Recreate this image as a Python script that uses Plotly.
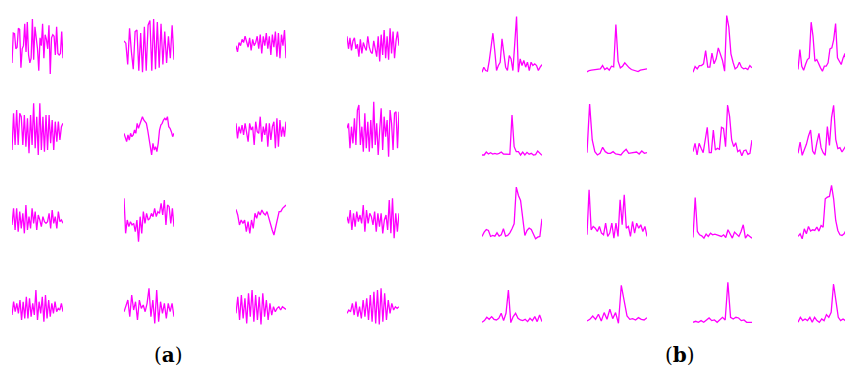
import plotly.graph_objects as go

# ---------------- data: (a) time-domain signals (relative amplitude) ----------------
wave_a1 = [-55, 40, 38, -10, -5, 55, 52, -70, -10, 0, 70, -20, 75, -30, -55, -40, 85, -45, 60, 20,
           -10, -80, 25, 0, 70, -40, 35, 20, -10, 65, -90, 25, 35, 30, -30, 60, -25, -30, -25, 45, -40]
wave_a2 = [15, 8, -60, 55, -20, -75, 45, 50, -80, 40, -85, 60, -80, 65, 80, -80, 85, -75, 75, -70,
           70, -60, 45, -55, 30, -40, 65, -45]
wave_a3 = [0, -20, 10, 0, 20, 10, 30, 15, -5, 25, -15, 20, 0, 10, 30, -10, 35, -25, 30, 0,
           40, -10, 30, -30, 35, -5, 45, -35, 40, -40, 35, 0, 50, -40]
wave_a4 = [30, -10, 25, -15, 15, 25, -10, 5, -35, 20, -25, 10, -5, -15, 30, -5, -20, -25, 15, -5,
           -35, 30, -50, 35, -30, 50, -40, 30, -45, 55, -25, 45, -40, 15, 45, 0]
wave_a5 = [-60, 50, -45, 60, -45, 50, 40, -45, 45, -50, 35, -70, 45, -45, 80, -55, 40, -75, 80, -60,
           40, -65, 45, -60, 45, -40, 30, -60, 25, -35, 25, -30, 10, 20]
wave_a6 = [-10, -20, -35, -15, -30, -10, -20, -15, 0, -10, 20, 5, 15, 30, 40, 30, 25, 20, 0, -30,
           -45, -75, -40, -60, -50, -65, -40, 0, 15, 20, 30, 35, 30, 40, 10, 5, -5, -20, -10]
wave_a7 = [20, -25, 10, -10, 15, -15, 20, -5, -35, 20, 0, 10, -45, 25, -5, -10, 40, -35, 10, -15,
           20, -50, 20, -30, 10, 25, -55, 35, -50, 30, -20, 10, -20, 25]
wave_a8 = [5, 20, -55, 10, -40, 35, -45, 60, 75, -45, 10, -65, 50, -55, 25, -65, 30, -55, 85, -45,
           20, -75, 0, 65, -60, 40, -20, 30, -80, 60, 20, -60, 50, 55, -55, 55]
wave_a9 = [-15, 35, -30, 35, -35, 25, -25, 20, -40, 45, -30, 10, -25, 35, -10, 25, -30, 15, 0, -20,
           10, -5, -10, -5, 20, -25, 30, -10, 10, -25, 25, -5, 0, -10]
wave_a10 = [65, -40, 0, -20, -5, -15, -10, -35, 0, -65, 10, -40, 25, -10, 20, 0, 5, 20, 10, 35,
            10, 25, 20, 50, 15, 60, -15, 45, 40, -10, 35, -20]
wave_a11 = [32, 15, -15, 0, -10, 0, -35, -5, -40, 0, -25, 20, 5, 25, 15, 30, 20, 15, 25, 5,
            -10, -30, -45, -20, 0, 25, 25, 35, 40, 45]
wave_a12 = [10, -10, 30, -30, 20, -20, 25, -5, 15, -10, 45, -35, 30, -10, 20, 10, -15, 25, -35, 20,
            -20, 20, -40, 0, 15, -30, 60, -40, 65, -55, 20, -35, 20]
wave_a13 = [-25, 15, -15, 10, -20, 20, -40, 15, -35, 30, -35, 25, -30, 10, -25, 50, -40, 15, -20, 30,
            -45, 35, -35, 20, -30, 10, -20, 15, -15, -5, -10, 10, -15]
wave_a14 = [-15, 5, 20, -30, 35, -10, 15, -40, 20, -5, 5, -15, 10, 55, -30, 20, -50, 50, -45, 15,
            -20, 10, -35, 10, -15, 10, -30]
wave_a15 = [-20, 30, -40, 35, -35, 25, -50, 40, -30, 50, -45, 35, -40, 30, -53, 40, -30, 20, -40, 10,
            -25, 0, -15, -5, 0, -10, 0, -5, -8]
wave_a16 = [-20, -10, -15, 10, -25, 15, -30, 0, -35, 20, -30, 25, -40, 35, -45, 45, -50, 50, -53, 55,
            -45, 40, -40, 20, -20, 10, -10, 0, -5, 0]

# ---------------- data: (b) spectra (relative magnitude) ----------------
spec_b1 = [0, 15, 5, 3, 35, 85, 117, 65, 5, 20, 30, 100, 50, 15, 5, 50, 40, 5, 85, 167,
           0, 40, 20, 35, 15, 30, 5, 30, 20, 25, 20, 5, 15, 23]
spec_b2 = [1, 5, 6, 7, 7, 8, 10, 20, 8, 13, 6, 18, 16, 143, 33, 13, 18, 28, 20, 13,
           8, 6, 5, 2, 6, 7, 8, 10]
spec_b3 = [0, 17, 10, 20, 20, 25, 65, 15, 15, 57, 25, 40, 73, 55, 35, 3, 170, 135, 55, 30,
           10, 15, 30, 15, 10, 12, 8, 20, 13]
spec_b4 = [8, 68, 18, 6, 23, 38, 43, 150, 108, 33, 38, 23, 13, 3, 18, 18, 28, 70, 73, 98,
           146, 43, 33, 23, 43, 56, 3, 13, 13, 28]
spec_b5 = [3, 3, 12, 6, 10, 6, 8, 6, 8, 12, 6, 5, 6, 5, 123, 28, 13, 13, 3, 12,
           3, 11, 5, 8, 3, 4, 15, 8, 2]
spec_b6 = [10, 156, 48, 13, 3, 8, 26, 13, 8, 8, 13, 6, 5, 3, 13, 20, 8, 10, 10, 12,
           6, 15, 8, 10]
spec_b7 = [13, 38, 3, 38, 23, 10, 48, 86, 10, 10, 78, 18, 23, 20, 86, 83, 28, 153, 118, 48,
           28, 40, 13, 18, 1, 16, 18, 5, 8, 48]
spec_b8 = [8, 42, 2, 20, 35, 60, 78, 15, 5, 40, 68, 25, 10, 2, 88, 32, 115, 152, 50, 22,
           25, 12, 22, 32, 20, 12, 22]
spec_b9 = [7, 20, 28, 25, 7, 10, 8, 18, 8, 12, 30, 8, 10, 18, 30, 45, 155, 130, 115, 60,
           10, 25, 32, 28, 15, 0, 5, 7, 60]
spec_b10 = [12, 147, 27, 37, 32, 22, 37, 17, 12, 47, 7, 17, 47, 2, 47, 7, 117, 42, 132, 32,
            37, 7, 52, 17, 47, 32, 42, 22, 37, 7]
spec_b11 = [4, 124, 22, 12, 9, 2, 14, 7, 17, 12, 14, 12, 10, 7, 12, 4, 27, 14, 2, 20,
            12, 7, 22, 42, 2, 12, 7, 2]
spec_b12 = [7, 15, 0, 30, 15, 37, 23, 27, 25, 35, 23, 40, 35, 120, 125, 127, 160, 120, 55, 25,
            12, 10, 15, 27, 13, 10, 25]
spec_b13 = [3, 8, 18, 12, 20, 12, 10, 15, 30, 8, 30, 100, 2, 20, 30, 15, 10, 8, 12, 5,
            15, 8, 20, 5, 25, 5]
spec_b14 = [7, 12, 22, 12, 27, 7, 32, 12, 42, 14, 32, 0, 114, 72, 22, 12, 14, 10, 17, 12,
            10, 17]
spec_b15 = [3, 6, 3, 8, 3, 10, 16, 8, 10, 3, 10, 18, 10, 123, 18, 13, 18, 16, 8, 10,
            3, 3, 3]
spec_b16 = [3, 18, 8, 13, 8, 18, 3, 18, 8, 3, 13, 8, 26, 18, 33, 118, 68, 18, 8, 13,
            8, 10, 3, 8]

waves = [wave_a1, wave_a2, wave_a3, wave_a4, wave_a5, wave_a6, wave_a7, wave_a8,
         wave_a9, wave_a10, wave_a11, wave_a12, wave_a13, wave_a14, wave_a15, wave_a16]
specs = [spec_b1, spec_b2, spec_b3, spec_b4, spec_b5, spec_b6, spec_b7, spec_b8,
         spec_b9, spec_b10, spec_b11, spec_b12, spec_b13, spec_b14, spec_b15, spec_b16]
panel_labels = ["a", "b"]

# ---------------- layout geometry (window pixels) ----------------
OFF = 8                      # default page margin around the plot div
W, H = 853 - OFF, 370 - OFF  # figure size so it fits the window
wave_cols = [(12, 63), (124, 174), (236, 286), (347, 399)]
wave_rows = [43.3, 130, 220, 306.7]          # centre line of each row
spec_cols = [(482, 542), (587, 647), (693, 752), (798, 852.5)]
spec_rows = [72.2, 156, 238.8, 323.3]        # baseline of each row
label_pos = [(168, 355), (680, 355)]

COLOR = "#ff00ff"

fig = go.Figure()
layout = {}
k = 0


def px_x(a, b):
    return [max(0, (a - OFF) / W), min(1, (b - OFF) / W)]


def px_y(top, bottom):
    return [max(0, 1 - (bottom - OFF) / H), min(1, 1 - (top - OFF) / H)]


def add_panel(data, xdom, ydom, yrange):
    global k
    k += 1
    sfx = "" if k == 1 else str(k)
    fig.add_trace(go.Scatter(x=list(range(len(data))), y=data, mode="lines",
                             line=dict(color=COLOR, width=1.3),
                             xaxis="x" + sfx, yaxis="y" + sfx,
                             hoverinfo="skip", showlegend=False))
    layout["xaxis" + sfx] = dict(domain=xdom, range=[0, len(data) - 1], visible=False,
                                 anchor="y" + sfx, fixedrange=True)
    layout["yaxis" + sfx] = dict(domain=ydom, range=yrange, visible=False,
                                 anchor="x" + sfx, fixedrange=True)


for r in range(4):
    for c in range(4):
        cy = wave_rows[r]
        add_panel(waves[r * 4 + c], px_x(*wave_cols[c]), px_y(cy - 40, cy + 40), [-120, 120])

for r in range(4):
    for c in range(4):
        by = spec_rows[r]
        add_panel(specs[r * 4 + c], px_x(*spec_cols[c]), px_y(by - 60, by + 5), [-15, 180])

annotations = []
for lab, (lx, ly) in zip(panel_labels, label_pos):
    annotations.append(dict(text="(<b>%s</b>)" % lab, x=(lx - OFF) / W, y=1 - (ly - OFF) / H,
                            xref="paper", yref="paper", xanchor="center", yanchor="middle",
                            showarrow=False,
                            font=dict(family="DejaVu Serif", size=20, color="black")))

fig.update_layout(**layout)
fig.update_layout(
    width=W, height=H,
    margin=dict(l=0, r=0, t=0, b=0),
    paper_bgcolor="white", plot_bgcolor="white",
    annotations=annotations,
)

fig.write_html("out.html")
